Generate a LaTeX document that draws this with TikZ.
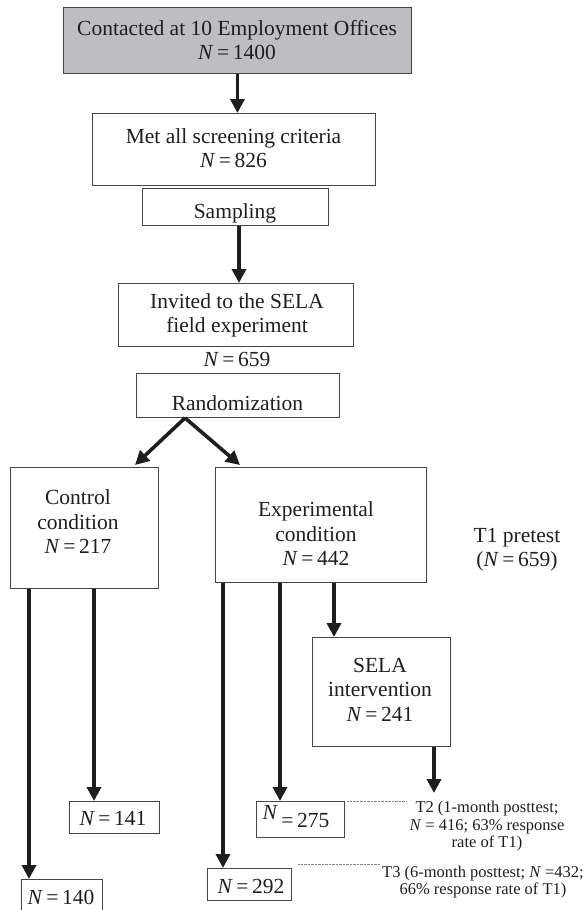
\documentclass[tikz,border=0pt]{standalone}
\usepackage{fontspec}
\setmainfont{Liberation Serif}
\usetikzlibrary{arrows.meta}
\definecolor{boxgray}{RGB}{190,190,194}
\definecolor{edge}{RGB}{70,70,70}
\definecolor{ink}{RGB}{30,30,30}
\tikzset{
  box/.style={draw=edge, line width=0.9pt, inner sep=0pt, anchor=north west},
  txt/.style={inner sep=0pt, align=center, text=ink, font=\fontsize{21.5}{24.5}\selectfont},
  small/.style={inner sep=0pt, align=center, text=ink, font=\fontsize{16.5}{17.5}\selectfont},
  arr/.style={draw=ink, line width=3.6pt, -{Triangle[width=14pt,length=14pt]}},
  dots/.style={draw=gray, line width=0.6pt, dash pattern=on 0.6pt off 0.8pt}
}
\newcommand{\Nv}{\textit{N}\,=\,}
\begin{document}
\begin{tikzpicture}[x=1pt,y=-1pt]
\useasboundingbox (0,0) rectangle (583,910);
% boxes
\node[box, fill=boxgray, minimum width=348pt, minimum height=66pt] (top) at (63,7) {};
\node[box, minimum width=283pt, minimum height=72pt] (met) at (92,113) {};
\node[box, minimum width=186pt, minimum height=37pt] (samp) at (142,188) {};
\node[box, minimum width=235pt, minimum height=63pt] (inv) at (118,283) {};
\node[box, minimum width=203pt, minimum height=44pt] (rand) at (136,373) {};
\node[box, minimum width=148pt, minimum height=121pt] (ctl) at (10,467) {};
\node[box, minimum width=211pt, minimum height=115pt] (exp) at (215,467) {};
\node[box, minimum width=138pt, minimum height=109pt] (sela) at (312,637) {};
\node[box, minimum width=90pt, minimum height=32pt] (n141) at (69,801) {};
\node[box, minimum width=81pt, minimum height=31pt] (n140) at (21,879) {};
\node[box, minimum width=88pt, minimum height=36pt] (n275) at (256,801) {};
\node[box, minimum width=84pt, minimum height=32pt] (n292) at (207,868) {};
% texts
\node[txt] (toptxt) at (237,40) {Contacted at 10 Employment Offices\\\Nv1400};
\node[txt] (mettxt) at (233.5,148) {Met all screening criteria\\\Nv826};
\node[txt, anchor=base] (samptxt) at (235,218) {Sampling};
\node[txt] (invtxt) at (237,315.5) {Invited to the SELA\\field experiment};
\node[txt, anchor=base] (n659) at (237,366) {\Nv659};
\node[txt, anchor=base] (randtxt) at (237.5,410) {Randomization};
\node[txt] (ctltxt) at (78,522) {Control\\condition\\\Nv217};
\node[txt] (exptxt) at (316,534) {Experimental\\condition\\\Nv442};
\node[txt] (t1txt) at (517,549.5) {T1 pretest\\(\Nv659)};
\node[txt] (selatxt) at (380,689.5) {SELA\\intervention\\\Nv241};
\node[txt, anchor=base] (n141txt) at (113,825) {\Nv141};
\node[txt, anchor=base] (n140txt) at (61,904) {\Nv140};
\node[txt, anchor=base] (n275txt) at (296,827) {\raisebox{8pt}{\textit{N}}\,=\,275};
\node[txt, anchor=base] (n292txt) at (251,893) {\Nv292};
\node[small] (t2txt) at (487,826.5) {T2 (1-month posttest;\\\textit{N} = 416; 63\% response\\rate of T1)};
\node[small] (t3txt) at (483,882) {T3 (6-month posttest; \textit{N} =432;\\66\% response rate of T1)};
% coordinates for free ends
\coordinate (selaend) at (434,793);
\coordinate (t2dot) at (407,801);
\coordinate (t3dot) at (380,864);
% arrows
\draw[arr] (top.south) -- (top.south |- met.north);
\draw[arr] ([xshift=97pt]samp.south west) -- ([xshift=97pt]samp.south west |- inv.north);
\draw[arr] ([xshift=49pt]rand.south west) -- ([xshift=125pt,yshift=2pt]ctl.north west);
\draw[arr] ([xshift=49pt]rand.south west) -- ([xshift=25pt,yshift=2pt]exp.north west);
\draw[arr] ([xshift=19pt]ctl.south west) -- ([xshift=19pt]ctl.south west |- n140.north);
\draw[arr] ([xshift=84pt]ctl.south west) -- ([xshift=84pt]ctl.south west |- n141.north);
\draw[arr] ([xshift=8pt]exp.south west) -- ([xshift=8pt]exp.south west |- n292.north);
\draw[arr] ([xshift=65pt]exp.south west) -- ([xshift=65pt]exp.south west |- n275.north);
\draw[arr, line width=4.8pt] ([xshift=119pt]exp.south west) -- ([xshift=119pt]exp.south west |- sela.north);
\draw[arr] ([xshift=122pt]sela.south west) -- (selaend);
% dotted leaders
\draw[dots] ([xshift=2pt]n275.north east) -- (t2dot);
\draw[dots] ([xshift=6pt,yshift=4pt]n292.north east) -- (t3dot);
\end{tikzpicture}
\end{document}
